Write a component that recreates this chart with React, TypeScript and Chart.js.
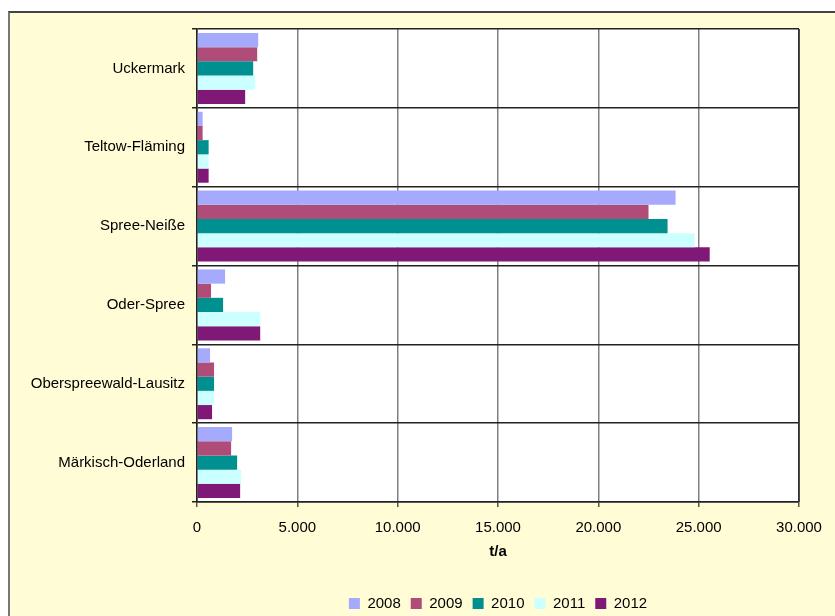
import React, { useEffect, useRef } from "react";
import { Chart, registerables } from "chart.js";

Chart.register(...registerables);

const categories = [
  "Uckermark",
  "Teltow-Fläming",
  "Spree-Neiße",
  "Oder-Spree",
  "Oberspreewald-Lausitz",
  "Märkisch-Oderland",
];

const years = ["2008", "2009", "2010", "2011", "2012"];

const values2008 = [3050, 280, 23850, 1400, 650, 1750];
const values2009 = [3000, 280, 22500, 700, 850, 1700];
const values2010 = [2800, 580, 23450, 1300, 850, 2000];
const values2011 = [2900, 580, 24800, 3150, 850, 2200];
const values2012 = [2400, 580, 25550, 3150, 750, 2150];

const seriesColors = ["#A5AAFC", "#B04C78", "#009090", "#CCFFFF", "#801878"];

const xMin = 0;
const xMax = 30000;
const xStep = 5000;
const xTitle = "t/a";

const FONT = "'Liberation Sans', Arial, sans-serif";

function formatDE(v: number): string {
  return String(Math.round(v)).replace(/\B(?=(\d{3})+(?!\d))/g, ".");
}

export default function App() {
  const canvasRef = useRef<HTMLCanvasElement | null>(null);

  useEffect(() => {
    if (!canvasRef.current) return;
    const series = [values2008, values2009, values2010, values2011, values2012];
    const chart = new Chart(canvasRef.current, {
      type: "bar",
      data: {
        labels: categories,
        datasets: years.map((y, i) => ({
          label: y,
          data: series[i],
          backgroundColor: seriesColors[i],
          borderWidth: 0,
          barPercentage: 1.0,
          categoryPercentage: 0.9,
        })),
      },
      options: {
        indexAxis: "y",
        animation: false,
        responsive: false,
        maintainAspectRatio: false,
        layout: { padding: { left: 0, top: 29, right: 36, bottom: 0 } },
        plugins: {
          legend: {
            display: true,
            position: "bottom",
            fullSize: false,
            labels: {
              boxWidth: 11,
              boxHeight: 11,
              padding: 10,
              color: "#000",
              font: { family: FONT, size: 15 },
            },
          },
          tooltip: { enabled: false },
        },
        scales: {
          x: {
            type: "linear",
            min: xMin,
            max: xMax,
            ticks: {
              stepSize: xStep,
              color: "#000",
              padding: 12,
              font: { family: FONT, size: 15 },
              callback: (v: any) => formatDE(Number(v)),
            },
            grid: {
              color: (ctx: any) =>
                ctx.tick && (ctx.tick.value === xMax || ctx.tick.value === xMin) ? "#333" : "#808080",
              lineWidth: 1.5,
              tickLength: 5,
              tickColor: "#555",
            },
            border: { color: "#222", width: 1.5 },
            title: {
              display: true,
              text: xTitle,
              color: "#000",
              font: { family: FONT, size: 15, weight: "bold" },
              padding: { top: 0, bottom: 25 },
            },
            afterFit: (scale: any) => {
              scale.height = 84;
            },
          },
          y: {
            type: "category",
            offset: true,
            ticks: {
              color: "#000",
              padding: 7,
              font: { family: FONT, size: 15 },
            },
            grid: {
              offset: true,
              color: "#222",
              lineWidth: 1.5,
              tickLength: 5,
              tickColor: "#222",
            },
            border: { color: "#222", width: 1.5 },
            afterFit: (scale: any) => {
              scale.width = 197;
            },
          },
        },
      },
      plugins: [
        {
          id: "plotBg",
          beforeDraw: (c: any) => {
            const a = c.chartArea;
            const ctx = c.ctx;
            ctx.save();
            ctx.fillStyle = "#FFFFFF";
            ctx.fillRect(a.left, a.top, a.right - a.left, a.bottom - a.top);
            ctx.restore();
          },
          afterDraw: (c: any) => {
            const a = c.chartArea;
            const ctx = c.ctx;
            ctx.save();
            ctx.strokeStyle = "#333";
            ctx.lineWidth = 1.5;
            ctx.beginPath();
            ctx.moveTo(a.right, a.top);
            ctx.lineTo(a.right, a.bottom);
            ctx.stroke();
            ctx.restore();
          },
        },
      ],
    });
    return () => chart.destroy();
  }, []);

  return (
    <div style={{ position: "fixed", left: 0, top: 0, width: 835, height: 616, background: "#FFFFFF", overflow: "hidden" }}>
      <div
        style={{
          position: "absolute",
          left: 8,
          top: 11,
          width: 900,
          height: 700,
          background: "#FFFCD6",
          borderLeft: "2px solid #777",
          borderTop: "2px solid #444",
        }}
      />
      <canvas
        ref={canvasRef}
        width={835}
        height={621}
        style={{ position: "absolute", left: 0, top: 0, width: 835, height: 621 }}
      />
    </div>
  );
}
